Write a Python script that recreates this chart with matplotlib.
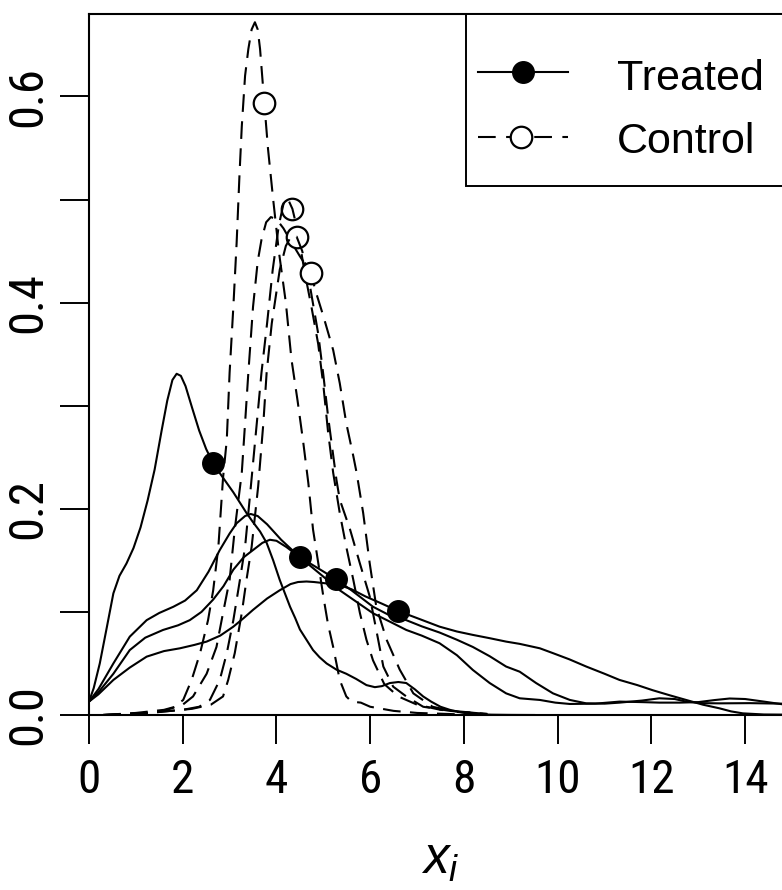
import matplotlib
matplotlib.use('Agg')
import matplotlib.pyplot as plt
from matplotlib import font_manager
from matplotlib.patches import Rectangle

plt.rcParams['font.family'] = ['Liberation Sans', 'DejaVu Sans']
plt.rcParams['mathtext.fontset'] = 'custom'
plt.rcParams['mathtext.it'] = 'Liberation Sans:italic'
plt.rcParams['mathtext.rm'] = 'Liberation Sans'

# treated densities (solid)
trt_a_x = [0, 0.1, 0.23, 0.38, 0.52, 0.65, 0.8, 0.95, 1.1, 1.25, 1.4, 1.55, 1.67, 1.78,
           1.87, 1.96, 2.06, 2.2, 2.35, 2.5, 2.65, 2.8, 2.94, 3.08, 3.22, 3.36, 3.5,
           3.65, 3.79, 3.93, 4.07, 4.18, 4.29, 4.4, 4.5, 4.64, 4.78, 4.92, 5.07, 5.28,
           5.49, 5.7, 5.92, 6.1, 6.25, 6.42, 6.6, 6.77, 6.95, 7.13, 7.3, 7.5, 7.7, 7.9,
           8.05, 8.3, 8.6, 9.0, 9.5]
trt_a_y = [0.013, 0.026, 0.05, 0.085, 0.118, 0.135, 0.147, 0.162, 0.182, 0.208, 0.238,
           0.276, 0.305, 0.325, 0.331, 0.329, 0.319, 0.298, 0.276, 0.258, 0.244, 0.234,
           0.225, 0.216, 0.206, 0.196, 0.187, 0.178, 0.167, 0.15, 0.131, 0.118, 0.105,
           0.094, 0.083, 0.073, 0.063, 0.056, 0.05, 0.044, 0.04, 0.035, 0.029, 0.027,
           0.028, 0.031, 0.032, 0.031, 0.025, 0.018, 0.013, 0.008, 0.005, 0.003, 0.0016,
           0.0007, 0.0003, 0.0001, 0.0]

trt_b_x = [0, 0.2, 0.52, 0.87, 1.23, 1.5, 1.8, 2.05, 2.3, 2.55, 2.79, 3.0, 3.15, 3.33,
           3.45, 3.6, 3.8, 4.1, 4.5, 4.9, 5.35, 5.7, 6.06, 6.4, 6.77, 7.1, 7.48, 7.85,
           8.19, 8.55, 8.9, 9.19, 9.62, 9.95, 10.26, 10.8, 11.32, 11.8, 12.17, 12.6,
           13.0, 13.35, 13.67, 14.0, 14.4, 14.78, 15]
trt_b_y = [0.013, 0.025, 0.05, 0.076, 0.092, 0.099, 0.105, 0.111, 0.121, 0.139, 0.16,
           0.176, 0.186, 0.193, 0.195, 0.193, 0.185, 0.17, 0.153, 0.138, 0.121, 0.11,
           0.0987, 0.091, 0.0825, 0.077, 0.0696, 0.058, 0.0437, 0.031, 0.021, 0.0162,
           0.0146, 0.012, 0.0107, 0.011, 0.013, 0.0125, 0.012, 0.012, 0.0125, 0.0145,
           0.016, 0.0155, 0.013, 0.0105, 0.009]

trt_c_x = [0, 0.2, 0.52, 0.87, 1.2, 1.58, 1.9, 2.15, 2.4, 2.65, 2.87, 3.08, 3.3, 3.5,
           3.7, 3.86, 4.0, 4.21, 4.5, 4.9, 5.27, 5.6, 6.06, 6.4, 6.77, 7.1, 7.48, 7.85,
           8.19, 8.55, 8.9, 9.19, 9.54, 9.9, 10.26, 10.61, 11.0, 11.32, 11.8, 12.17,
           12.5, 12.74, 13.1, 13.45, 14.1, 14.78, 15]
trt_c_y = [0.013, 0.022, 0.04, 0.063, 0.075, 0.0825, 0.087, 0.092, 0.1, 0.112, 0.125,
           0.141, 0.153, 0.16, 0.167, 0.17, 0.169, 0.163, 0.153, 0.142, 0.1317, 0.121,
           0.105, 0.097, 0.092, 0.086, 0.08, 0.073, 0.066, 0.057, 0.047, 0.042, 0.031,
           0.021, 0.0146, 0.0113, 0.011, 0.012, 0.014, 0.0162, 0.0155, 0.013, 0.0115,
           0.0113, 0.0115, 0.011, 0.011]

trt_d_x = [0, 0.2, 0.52, 0.87, 1.23, 1.6, 1.94, 2.25, 2.51, 2.8, 3.08, 3.3, 3.5, 3.8,
           4.07, 4.3, 4.46, 4.64, 4.8, 5.0, 5.35, 5.6, 5.9, 6.25, 6.59, 7.0, 7.48, 7.85,
           8.19, 8.55, 8.9, 9.19, 9.62, 9.9, 10.25, 10.61, 11.0, 11.32, 11.7, 12.03,
           12.4, 12.74, 13.1, 13.45, 13.7, 13.95, 14.4, 15]
trt_d_y = [0.013, 0.02, 0.034, 0.046, 0.0566, 0.062, 0.0647, 0.068, 0.0712, 0.077,
           0.0857, 0.094, 0.102, 0.113, 0.121, 0.127, 0.129, 0.1295, 0.129, 0.128,
           0.126, 0.122, 0.115, 0.108, 0.101, 0.094, 0.0857, 0.081, 0.0777, 0.0745,
           0.0712, 0.069, 0.0647, 0.06, 0.054, 0.047, 0.04, 0.034, 0.029, 0.024, 0.019,
           0.0146, 0.01, 0.0065, 0.0035, 0.0016, 0.0005, 0.0003]

# control densities (dashed)
ctl_a_x = [0.3, 1.0, 1.5, 1.8, 2.01, 2.19, 2.37, 2.54, 2.65, 2.76, 2.86, 2.94, 3.0,
           3.08, 3.15, 3.21, 3.26, 3.33, 3.4, 3.47, 3.54, 3.6, 3.65, 3.74, 3.82, 3.93,
           4.05, 4.2, 4.32, 4.45, 4.57, 4.68, 4.78, 4.9, 5.0, 5.1, 5.21, 5.35, 5.49,
           5.6, 5.8, 6.0, 6.5, 7.0, 8.0]
ctl_a_y = [0.0, 0.001, 0.003, 0.007, 0.0146, 0.034, 0.06, 0.092, 0.121, 0.163, 0.23,
           0.267, 0.332, 0.396, 0.458, 0.523, 0.571, 0.62, 0.646, 0.665, 0.672, 0.665,
           0.646, 0.594, 0.549, 0.5, 0.45, 0.4, 0.345, 0.305, 0.265, 0.225, 0.18, 0.145,
           0.115, 0.088, 0.066, 0.034, 0.018, 0.013, 0.012, 0.008, 0.004, 0.002, 0.0005]

ctl_b_x = [0.3, 1.0, 1.6, 2.0, 2.22, 2.51, 2.72, 2.86, 3.0, 3.11, 3.26, 3.33, 3.4, 3.5,
           3.6, 3.68, 3.78, 3.88, 4.0, 4.15, 4.3, 4.5, 4.73, 4.85, 5.0, 5.21, 5.35,
           5.49, 5.64, 5.71, 5.85, 5.99, 6.13, 6.35, 6.63, 6.92, 7.33, 7.84, 8.5]
ctl_b_y = [0.0, 0.002, 0.005, 0.01, 0.018, 0.04, 0.066, 0.099, 0.131, 0.18, 0.235,
           0.283, 0.332, 0.396, 0.44, 0.461, 0.478, 0.483, 0.481, 0.472, 0.46, 0.445,
           0.429, 0.409, 0.387, 0.354, 0.322, 0.283, 0.251, 0.235, 0.196, 0.147, 0.105,
           0.073, 0.044, 0.021, 0.008, 0.003, 0.001]

ctl_c_x = [0.3, 1.2, 2.0, 2.35, 2.58, 2.79, 2.94, 3.08, 3.22, 3.33, 3.45, 3.58, 3.68,
           3.8, 3.92, 4.05, 4.17, 4.25, 4.34, 4.45, 4.6, 4.75, 4.89, 5.0, 5.1, 5.21,
           5.35, 5.49, 5.64, 5.78, 5.92, 6.06, 6.3, 6.6, 7.0, 7.5, 8.5]
ctl_c_y = [0.0, 0.002, 0.005, 0.008, 0.0146, 0.034, 0.06, 0.092, 0.131, 0.163, 0.22,
           0.283, 0.332, 0.38, 0.432, 0.475, 0.5, 0.5, 0.491, 0.47, 0.43, 0.395, 0.36,
           0.32, 0.275, 0.235, 0.196, 0.163, 0.131, 0.099, 0.073, 0.053, 0.03, 0.018,
           0.01, 0.005, 0.001]

ctl_d_x = [0.3, 1.3, 2.2, 2.6, 2.86, 2.97, 3.11, 3.26, 3.36, 3.47, 3.61, 3.72, 3.79,
           3.9, 4.07, 4.2, 4.32, 4.43, 4.55, 4.7, 4.89, 5.0, 5.1, 5.28, 5.35, 5.57,
           5.78, 5.99, 6.13, 6.28, 6.49, 6.77, 7.13, 7.7, 8.5]
ctl_d_y = [0.0, 0.002, 0.006, 0.01, 0.018, 0.034, 0.06, 0.099, 0.131, 0.163, 0.222,
           0.283, 0.332, 0.38, 0.432, 0.455, 0.465, 0.464, 0.45, 0.42, 0.37, 0.33, 0.29,
           0.228, 0.209, 0.18, 0.147, 0.115, 0.0825, 0.047, 0.0275, 0.018, 0.008,
           0.004, 0.001]

# marked points, one per curve
trt_pt_x = [2.65, 4.5, 5.27, 6.59]
trt_pt_y = [0.244, 0.153, 0.1317, 0.101]
ctl_pt_x = [3.74, 4.34, 4.43, 4.73]
ctl_pt_y = [0.594, 0.491, 0.464, 0.429]

x_ticks = [0, 2, 4, 6, 8, 10, 12, 14]
y_ticks = [0.0, 0.1, 0.2, 0.3, 0.4, 0.5, 0.6]
y_labels = ['0.0', '', '0.2', '', '0.4', '', '0.6']
legend_labels = ['Treated', 'Control']

names = {f.name for f in font_manager.fontManager.ttflist}
tick_font = next((n for n in ['Liberation Sans Narrow', 'Roboto Condensed']
                  if n in names), 'Liberation Sans')

W, H = 782, 890
fig = plt.figure(figsize=(W / 100, H / 100), dpi=100)
ax = fig.add_axes([89 / W, (H - 715) / H, (792 - 89) / W, (715 - 14) / H])

lw = 1.5
dash = (0, (8.5, 4.5))
trt = [(trt_a_x, trt_a_y), (trt_b_x, trt_b_y), (trt_c_x, trt_c_y), (trt_d_x, trt_d_y)]
ctl = [(ctl_a_x, ctl_a_y), (ctl_b_x, ctl_b_y), (ctl_c_x, ctl_c_y), (ctl_d_x, ctl_d_y)]

z = 2
for (xs, ys), px, py in zip(trt, trt_pt_x, trt_pt_y):
    ax.plot(xs, ys, color='black', lw=lw, zorder=z)
    ax.plot([px], [py], 'o', color='black', ms=15.5, zorder=z + 1)
    z += 2
for (xs, ys), px, py in zip(ctl, ctl_pt_x, ctl_pt_y):
    ax.plot(xs, ys, color='black', lw=lw, linestyle=dash, zorder=z)
    ax.plot([px], [py], 'o', mfc='white', mec='black', mew=1.6, ms=15.5, zorder=z + 1)
    z += 2

ax.set_xlim(0, 15)
ax.set_ylim(0, 0.68)
ax.set_xticks(x_ticks)
ax.set_yticks(y_ticks)
ax.set_xticklabels([str(t) for t in x_ticks], fontsize=34, family=tick_font)
ax.set_yticklabels(y_labels, rotation=90, va='center', fontsize=35, family=tick_font)
ax.tick_params(axis='x', direction='out', length=21, width=1.4, pad=10)
ax.tick_params(axis='y', direction='out', length=21, width=1.4, pad=6)
for s in ax.spines.values():
    s.set_linewidth(1.5)
ax.set_xlabel('$x_i$', fontsize=37, labelpad=24)

# legend box, drawn in figure pixels (top-left origin) -> figure fraction
def fx(px):
    return px / W

def fy(py):
    return 1 - py / H

fig.patches.append(Rectangle((fx(466), fy(186)), fx(340), fy(14) - fy(186),
                             transform=fig.transFigure, facecolor='white',
                             edgecolor='black', lw=1.4, zorder=20))
rows = [fy(72), fy(137)]
fig.add_artist(plt.Line2D([fx(478), fx(568)], [rows[0], rows[0]], color='black',
                          lw=lw, transform=fig.transFigure, zorder=21))
fig.add_artist(plt.Line2D([fx(523)], [rows[0]], marker='o', color='black', ms=15.5,
                          transform=fig.transFigure, zorder=22))
fig.add_artist(plt.Line2D([fx(478), fx(568)], [rows[1], rows[1]], color='black',
                          lw=lw, linestyle=(0, (8.5, 5)), transform=fig.transFigure,
                          zorder=21))
fig.add_artist(plt.Line2D([fx(521)], [rows[1]], marker='o', mfc='white', mec='black',
                          mew=1.6, ms=15.5, transform=fig.transFigure, zorder=22))
for base, lab in zip([fy(90), fy(153)], legend_labels):
    fig.text(fx(617), base, lab, fontsize=31, va='baseline', ha='left', zorder=23)

fig.savefig('out.png', dpi=100)
